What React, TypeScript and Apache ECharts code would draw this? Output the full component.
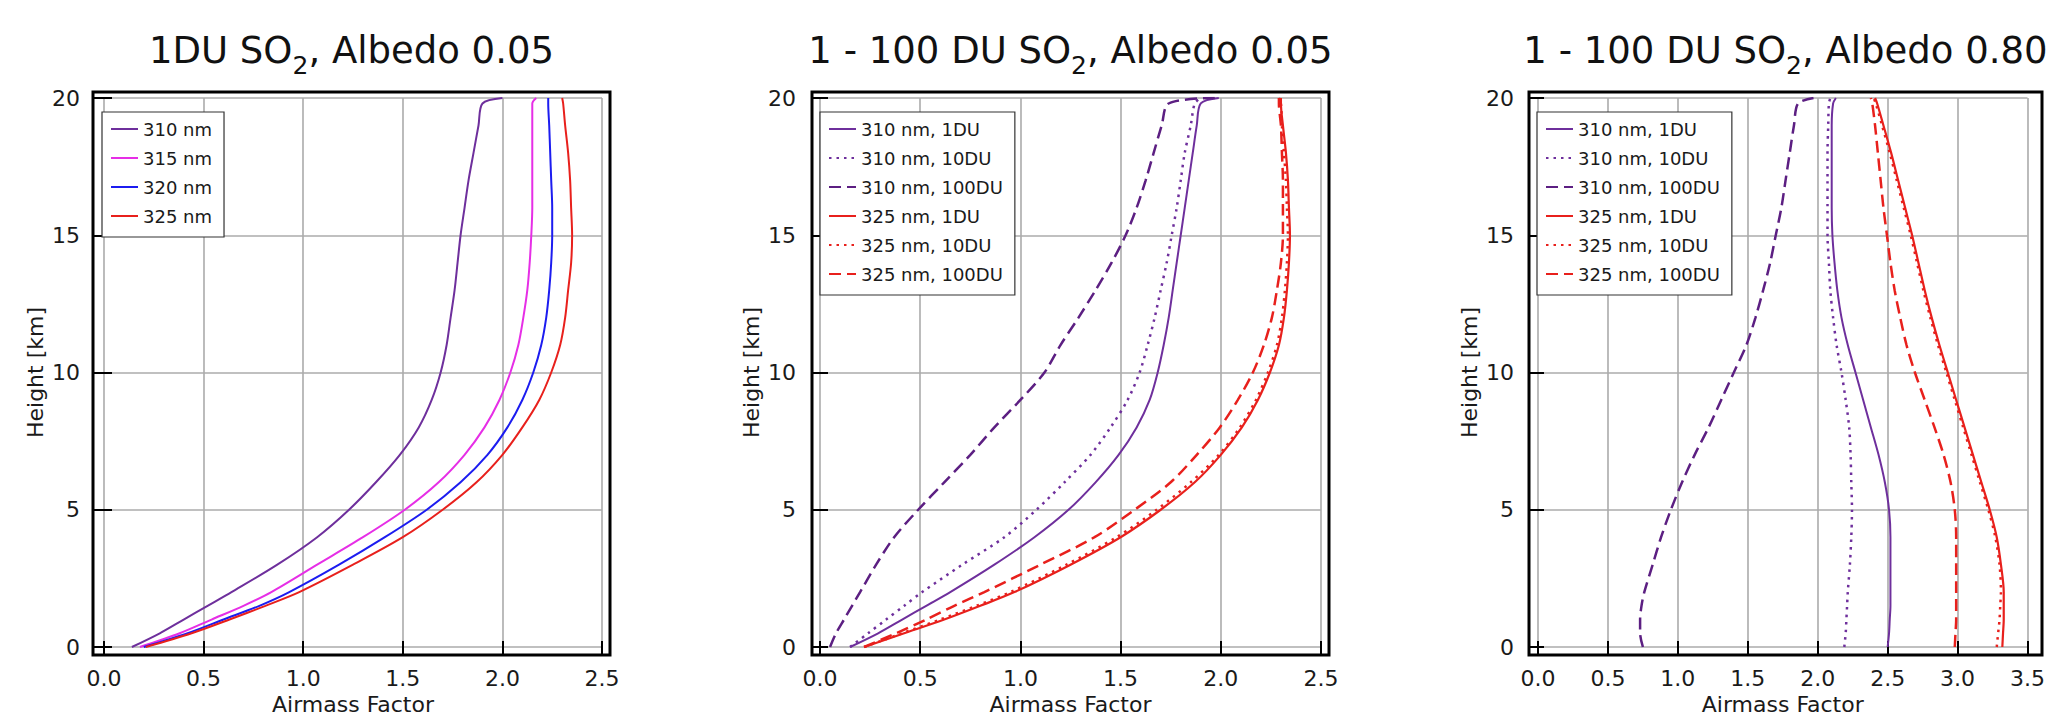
import React, { useEffect, useRef } from 'react';
import * as echarts from 'echarts';

// ---------------- DATA ----------------
const heights = [0, 0.5, 1, 1.5, 2, 3, 4, 5, 6, 7, 8, 9, 10, 11, 12, 13, 14, 15, 16, 17, 18, 19, 19.8, 20];

// Panel 1: 1DU SO2, Albedo 0.05
const p1_310 = [0.14, 0.28, 0.40, 0.52, 0.64, 0.87, 1.07, 1.23, 1.365, 1.485, 1.58, 1.645, 1.69, 1.72, 1.74, 1.76, 1.775, 1.79, 1.81, 1.83, 1.855, 1.88, 1.90, 2.0];
const p1_315 = [0.18, 0.38, 0.54, 0.70, 0.84, 1.07, 1.30, 1.51, 1.68, 1.81, 1.91, 1.985, 2.04, 2.08, 2.105, 2.125, 2.137, 2.145, 2.15, 2.15, 2.15, 2.15, 2.15, 2.17];
const p1_320 = [0.20, 0.42, 0.60, 0.78, 0.93, 1.18, 1.41, 1.62, 1.79, 1.925, 2.025, 2.10, 2.155, 2.195, 2.22, 2.235, 2.245, 2.25, 2.25, 2.245, 2.24, 2.235, 2.23, 2.23];
const p1_325 = [0.21, 0.44, 0.63, 0.81, 0.98, 1.25, 1.50, 1.70, 1.87, 2.00, 2.10, 2.185, 2.245, 2.29, 2.315, 2.33, 2.345, 2.35, 2.345, 2.34, 2.33, 2.315, 2.305, 2.30];

// Panel 2: 1 - 100 DU SO2, Albedo 0.05
const p2_310_1 = [0.15, 0.29, 0.41, 0.53, 0.65, 0.87, 1.07, 1.24, 1.375, 1.49, 1.58, 1.645, 1.685, 1.715, 1.74, 1.76, 1.78, 1.80, 1.82, 1.84, 1.86, 1.88, 1.90, 1.99];
const p2_310_10 = [0.15, 0.24, 0.33, 0.42, 0.51, 0.71, 0.92, 1.08, 1.22, 1.35, 1.45, 1.535, 1.595, 1.635, 1.67, 1.70, 1.73, 1.755, 1.78, 1.80, 1.82, 1.85, 1.87, 1.90];
const p2_310_100 = [0.05, 0.08, 0.12, 0.16, 0.20, 0.28, 0.37, 0.49, 0.62, 0.75, 0.87, 1.00, 1.12, 1.20, 1.29, 1.375, 1.455, 1.525, 1.58, 1.625, 1.665, 1.705, 1.74, 1.97];
const p2_325_1 = [0.22, 0.42, 0.62, 0.80, 0.97, 1.25, 1.50, 1.70, 1.87, 2.00, 2.105, 2.185, 2.245, 2.29, 2.315, 2.33, 2.34, 2.345, 2.34, 2.335, 2.325, 2.31, 2.30, 2.30];
const p2_325_10 = [0.22, 0.41, 0.60, 0.78, 0.95, 1.23, 1.48, 1.68, 1.85, 1.99, 2.095, 2.175, 2.235, 2.28, 2.305, 2.32, 2.33, 2.335, 2.33, 2.325, 2.315, 2.305, 2.30, 2.29];
const p2_325_100 = [0.22, 0.38, 0.53, 0.67, 0.82, 1.10, 1.37, 1.57, 1.75, 1.88, 1.995, 2.085, 2.16, 2.215, 2.255, 2.28, 2.30, 2.31, 2.31, 2.31, 2.305, 2.30, 2.29, 2.29];

// Panel 3: 1 - 100 DU SO2, Albedo 0.80
const p3_310_1 = [2.50, 2.51, 2.515, 2.52, 2.52, 2.52, 2.52, 2.51, 2.48, 2.435, 2.38, 2.325, 2.27, 2.215, 2.17, 2.14, 2.12, 2.105, 2.10, 2.10, 2.10, 2.10, 2.11, 2.13];
const p3_310_10 = [2.19, 2.20, 2.205, 2.21, 2.215, 2.23, 2.24, 2.245, 2.24, 2.235, 2.225, 2.20, 2.17, 2.135, 2.11, 2.09, 2.08, 2.07, 2.07, 2.07, 2.07, 2.075, 2.08, 2.09];
const p3_310_100 = [0.75, 0.73, 0.73, 0.74, 0.76, 0.82, 0.88, 0.95, 1.03, 1.12, 1.22, 1.31, 1.40, 1.49, 1.555, 1.61, 1.66, 1.70, 1.74, 1.77, 1.80, 1.83, 1.86, 1.97];
const p3_325_1 = [3.32, 3.325, 3.33, 3.33, 3.33, 3.31, 3.28, 3.23, 3.17, 3.11, 3.05, 2.99, 2.93, 2.87, 2.815, 2.765, 2.72, 2.675, 2.625, 2.575, 2.525, 2.47, 2.425, 2.41];
const p3_325_10 = [3.28, 3.29, 3.30, 3.305, 3.31, 3.30, 3.27, 3.22, 3.16, 3.10, 3.04, 2.98, 2.92, 2.86, 2.805, 2.755, 2.71, 2.665, 2.615, 2.565, 2.515, 2.46, 2.415, 2.40];
const p3_325_100 = [2.98, 2.985, 2.99, 2.99, 2.99, 2.99, 2.99, 2.98, 2.95, 2.90, 2.835, 2.765, 2.695, 2.635, 2.59, 2.55, 2.52, 2.495, 2.47, 2.45, 2.43, 2.41, 2.39, 2.38];

const panelTitles = [
  '1DU SO{s|2}, Albedo 0.05',
  '1 - 100 DU SO{s|2}, Albedo 0.05',
  '1 - 100 DU SO{s|2}, Albedo 0.80',
];
const xMaxes = [2.5, 2.5, 3.5];
const yMax = 20;
const xName = 'Airmass Factor';
const yName = 'Height [km]';

const names1 = ['310 nm', '315 nm', '320 nm', '325 nm'];
const namesDU = ['310 nm, 1DU', '310 nm, 10DU', '310 nm, 100DU', '325 nm, 1DU', '325 nm, 10DU', '325 nm, 100DU'];

// ---------------- STYLE / LAYOUT ----------------
const FONT = 'DejaVu Sans';
const TXT = '#1a1a1a';
const PURPLE = '#6e2f9c';
const PURPLE_D = '#5c1f82';
const MAGENTA = '#e62ee6';
const BLUE = '#1c1cf0';
const RED = '#e8201c';
const DOT: number[] = [2.5, 5];
const DASH: number[] = [12, 6];

const TOP = 98;
const HEIGHT = 549;
const FT = 6;
const FB = 8;
const layout = [
  { left: 104, width: 498, fl: 11, fr: 8, legendLeft: 102 },
  { left: 820, width: 501, fl: 8, fr: 8, legendLeft: 820 },
  { left: 1538, width: 498, fl: 9, fr: 6, legendLeft: 1537 },
];

type Style = { color: string; type: any; width: number };
const stylesP1: Style[] = [
  { color: PURPLE, type: 'solid', width: 2 },
  { color: MAGENTA, type: 'solid', width: 2 },
  { color: BLUE, type: 'solid', width: 2 },
  { color: RED, type: 'solid', width: 2 },
];
const stylesDU: Style[] = [
  { color: PURPLE, type: 'solid', width: 2 },
  { color: PURPLE, type: DOT, width: 2.5 },
  { color: PURPLE_D, type: DASH, width: 2.5 },
  { color: RED, type: 'solid', width: 2.2 },
  { color: RED, type: DOT, width: 2.5 },
  { color: RED, type: DASH, width: 2.5 },
];

const panelSeries = [
  { names: names1, styles: stylesP1, values: [p1_310, p1_315, p1_320, p1_325] },
  { names: namesDU, styles: stylesDU, values: [p2_310_1, p2_310_10, p2_310_100, p2_325_1, p2_325_10, p2_325_100] },
  { names: namesDU, styles: stylesDU, values: [p3_310_1, p3_310_10, p3_310_100, p3_325_1, p3_325_10, p3_325_100] },
];

function buildOption(): any {
  const grid: any[] = [];
  const xAxis: any[] = [];
  const yAxis: any[] = [];
  const series: any[] = [];
  const legend: any[] = [];
  const graphic: any[] = [];

  layout.forEach((L, i) => {
    grid.push({ left: L.left, top: TOP, width: L.width, height: HEIGHT, containLabel: false });
    const tick = (len: number) => ({ show: true, inside: false, length: len, lineStyle: { color: '#000', width: 2 } });
    xAxis.push({
      type: 'value', gridIndex: i, position: 'bottom', min: 0, max: xMaxes[i], interval: 0.5,
      axisLine: { show: false }, axisTick: tick(FB),
      axisLabel: { margin: 20, fontSize: 22, fontFamily: FONT, color: TXT, formatter: (v: number) => v.toFixed(1) },
      splitLine: { show: true, lineStyle: { color: '#ababab', width: 1.6 } },
      name: xName, nameLocation: 'middle', nameGap: 46,
      nameTextStyle: { fontSize: 22, fontFamily: FONT, color: TXT },
    });
    xAxis.push({
      type: 'value', gridIndex: i, position: 'top', min: 0, max: xMaxes[i], interval: 0.5,
      axisLine: { show: false }, axisTick: tick(FT), axisLabel: { show: false }, splitLine: { show: false },
    });
    yAxis.push({
      type: 'value', gridIndex: i, position: 'left', min: 0, max: yMax, interval: 5,
      axisLine: { show: false }, axisTick: tick(L.fl),
      axisLabel: { margin: 24, fontSize: 22, fontFamily: FONT, color: TXT },
      splitLine: { show: true, lineStyle: { color: '#ababab', width: 1.6 } },
      name: yName, nameLocation: 'middle', nameGap: 58,
      nameTextStyle: { fontSize: 22, fontFamily: FONT, color: TXT },
    });
    yAxis.push({
      type: 'value', gridIndex: i, position: 'right', min: 0, max: yMax, interval: 5,
      axisLine: { show: false }, axisTick: tick(L.fr), axisLabel: { show: false }, splitLine: { show: false },
    });

    const P = panelSeries[i];
    P.names.forEach((nm, k) => {
      const st = P.styles[k];
      series.push({
        type: 'line', name: nm, xAxisIndex: 2 * i, yAxisIndex: 2 * i,
        data: heights.map((h, j) => [P.values[k][j], h]),
        symbol: 'none', smooth: 0.3, z: 3,
        lineStyle: { color: st.color, width: st.width, type: st.type },
        itemStyle: { color: st.color },
      });
    });

    legend.push({
      orient: 'vertical', left: L.legendLeft, top: 112, data: P.names,
      padding: [7, 12, 11, 8], itemGap: 9, itemWidth: 27, itemHeight: 14,
      backgroundColor: '#fff', borderColor: '#333', borderWidth: 1.2, selectedMode: false,
      itemStyle: { opacity: 0, borderWidth: 0 },
      textStyle: { fontSize: 18, fontFamily: FONT, color: TXT, lineHeight: 20 },
    });

    // frame around the plot
    graphic.push({
      type: 'rect', silent: true, z: 100,
      shape: { x: L.left - L.fl, y: TOP - FT, width: L.width + L.fl + L.fr, height: HEIGHT + FT + FB },
      style: { fill: 'none', stroke: '#000', lineWidth: 3 },
    });
    // title
    graphic.push({
      type: 'text', silent: true, z: 100,
      x: L.left + L.width / 2 + (L.fr - L.fl) / 2, y: 50,
      style: {
        text: panelTitles[i], fontSize: 37, fontFamily: FONT, fill: '#111',
        align: 'center', verticalAlign: 'middle',
        rich: { s: { fontSize: 25, fontFamily: FONT, fill: '#111', padding: [30, 0, 0, 0] } },
      },
    });
  });

  return { animation: false, backgroundColor: '#fff', grid, xAxis, yAxis, series, legend, graphic };
}

export default function App() {
  const ref = useRef<HTMLDivElement>(null);
  useEffect(() => {
    if (!ref.current) return;
    const chart = echarts.init(ref.current, undefined, { renderer: 'svg' });
    chart.setOption(buildOption());
    return () => chart.dispose();
  }, []);
  return <div ref={ref} style={{ position: 'fixed', left: 0, top: 0, width: 2048, height: 722 }} />;
}
